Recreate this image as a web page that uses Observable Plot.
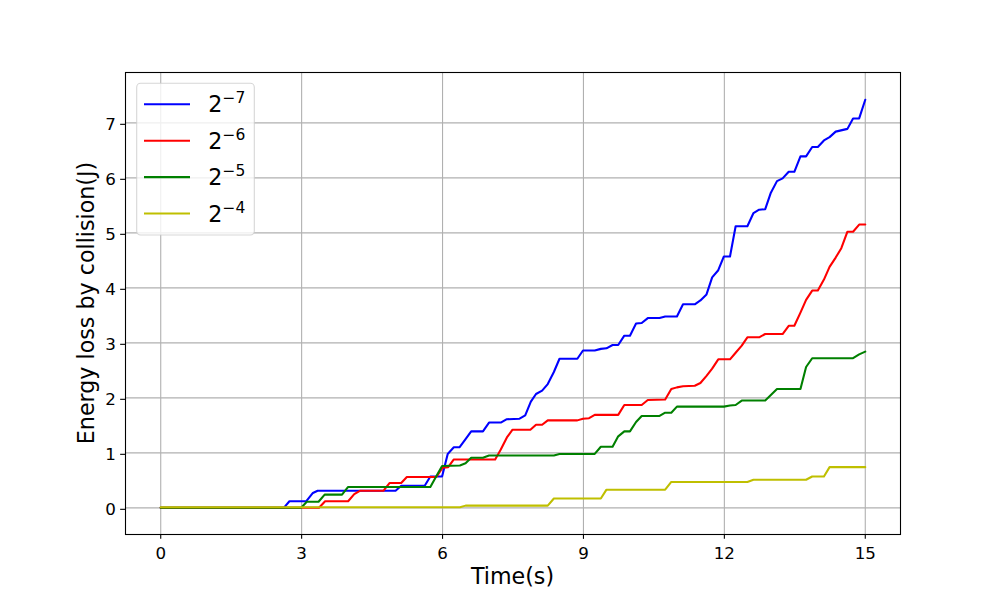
<!DOCTYPE html>
<html>
<head>
<meta charset="utf-8">
<script src="https://cdn.jsdelivr.net/npm/d3@7"></script>
<script src="https://cdn.jsdelivr.net/npm/@observablehq/plot@0.6"></script>
<style>
  html, body { margin: 0; padding: 0; background: #ffffff; }
</style>
</head>
<body>
<div id="chart"></div>
<script>
// ---- data ----
const xTicks = [0, 3, 6, 9, 12, 15];
const yTicks = [0, 1, 2, 3, 4, 5, 6, 7];
const xLabel = "Time(s)";
const yLabel = "Energy loss by collision(J)";

const seriesBase = ["2", "2", "2", "2"];
const seriesExponents = ["−7", "−6", "−5", "−4"];
const seriesColors = ["#0000ff", "#ff0000", "#008000", "#bfbf00"];

const tBlue = [0,2.62,2.74,3.1,3.24,3.34,5.0,5.12,5.62,5.74,5.99,6.11,6.24,6.36,6.49,6.61,6.86,6.99,7.24,7.36,7.64,7.76,7.88,7.99,8.12,8.24,8.37,8.49,8.87,8.99,9.24,9.37,9.49,9.62,9.74,9.87,9.99,10.12,10.24,10.37,10.62,10.74,10.99,11.12,11.37,11.49,11.62,11.74,11.87,11.99,12.12,12.24,12.49,12.62,12.74,12.87,12.99,13.12,13.24,13.37,13.49,13.62,13.74,13.87,13.99,14.12,14.24,14.37,14.62,14.74,14.87,15.0];
const vBlue = [0,0,0.12,0.12,0.27,0.31,0.31,0.40,0.40,0.57,0.57,0.98,1.10,1.10,1.25,1.39,1.39,1.55,1.55,1.61,1.62,1.68,1.93,2.07,2.13,2.25,2.47,2.71,2.71,2.86,2.86,2.89,2.90,2.96,2.96,3.13,3.13,3.35,3.36,3.45,3.45,3.48,3.48,3.70,3.70,3.77,3.88,4.19,4.32,4.57,4.57,5.12,5.12,5.36,5.42,5.43,5.73,5.94,5.99,6.11,6.11,6.39,6.39,6.56,6.56,6.68,6.74,6.84,6.89,7.08,7.08,7.42];

const tRed = [0,3.37,3.5,3.99,4.12,4.24,4.74,4.87,5.12,5.24,5.87,6.0,6.12,6.24,7.12,7.24,7.37,7.49,7.87,7.99,8.12,8.24,8.87,8.99,9.12,9.24,9.74,9.87,10.24,10.37,10.74,10.87,10.99,11.12,11.37,11.49,11.62,11.74,11.87,12.12,12.24,12.37,12.49,12.74,12.87,13.24,13.37,13.49,13.62,13.74,13.87,13.99,14.12,14.24,14.37,14.49,14.62,14.74,14.87,15.0];
const vRed = [0,0,0.12,0.12,0.25,0.31,0.31,0.45,0.45,0.56,0.56,0.73,0.74,0.88,0.88,1.06,1.28,1.42,1.42,1.51,1.51,1.59,1.59,1.62,1.63,1.69,1.69,1.87,1.87,1.96,1.97,2.16,2.19,2.21,2.22,2.27,2.40,2.53,2.70,2.70,2.82,2.95,3.10,3.10,3.16,3.16,3.31,3.31,3.55,3.78,3.95,3.95,4.15,4.38,4.55,4.72,5.02,5.02,5.15,5.15];

const tGreen = [0,2.99,3.11,3.36,3.49,3.86,3.99,5.74,5.87,5.99,6.37,6.49,6.61,6.86,6.99,8.37,8.49,9.24,9.37,9.62,9.74,9.87,9.99,10.12,10.24,10.62,10.74,10.87,10.99,11.99,12.12,12.24,12.37,12.87,12.99,13.12,13.62,13.74,13.87,14.74,14.87,15.0];
const vGreen = [0,0,0.11,0.11,0.24,0.24,0.38,0.38,0.58,0.76,0.77,0.81,0.91,0.91,0.95,0.95,0.98,0.98,1.11,1.11,1.30,1.39,1.39,1.56,1.67,1.67,1.73,1.73,1.84,1.84,1.86,1.87,1.95,1.95,2.05,2.16,2.16,2.56,2.72,2.72,2.79,2.84];

const tYellow = [0,6.37,6.49,8.24,8.37,9.37,9.49,10.74,10.87,12.49,12.62,13.74,13.87,14.12,14.24,15.0];
const vYellow = [0.01,0.01,0.04,0.04,0.17,0.17,0.33,0.33,0.47,0.47,0.51,0.51,0.57,0.57,0.74,0.74];

// ---- build tables ----
const seriesT = [tBlue, tRed, tGreen, tYellow];
const seriesV = [vBlue, vRed, vGreen, vYellow];
const series = seriesT.map((ts, i) => ({
  color: seriesColors[i],
  base: seriesBase[i],
  exp: seriesExponents[i],
  rows: ts.map((t, j) => ({ t, v: seriesV[i][j] }))
}));

const FONT = "DejaVu Sans";
const plot = Plot.plot({
  width: 1000,
  height: 600,
  marginLeft: 125,
  marginRight: 100,
  marginTop: 72,
  marginBottom: 66,
  style: { fontFamily: FONT, fontSize: "16.7px", background: "#ffffff", color: "#000000" },
  x: { domain: [-0.75, 15.75] },
  y: { domain: [-0.485, 7.915] },
  marks: [
    Plot.gridX(xTicks, { stroke: "#b0b0b0", strokeOpacity: 1, strokeWidth: 1.1 }),
    Plot.gridY(yTicks, { stroke: "#b0b0b0", strokeOpacity: 1, strokeWidth: 1.1 }),
    ...series.map(s => Plot.line(s.rows, { x: "t", y: "v", stroke: s.color, strokeWidth: 2.08 })),
    Plot.axisX(xTicks, { tickSize: 4.86, tickPadding: 7.5, label: null, strokeWidth: 1.1, fontSize: 16.7, tickFormat: d3.format("d") }),
    Plot.axisY(yTicks, { tickSize: 4.86, tickPadding: 4.86, label: null, strokeWidth: 1.1, fontSize: 16.7, dy: 1.5, tickFormat: d3.format("d") }),
    Plot.frame({ stroke: "#000000", strokeWidth: 1.1 })
  ]
});

document.getElementById("chart").appendChild(plot);

// ---- axis titles and legend ----
const svg = d3.select(plot);
svg.append("text")
  .attr("x", 512.5).attr("y", 584)
  .attr("text-anchor", "middle")
  .attr("font-family", FONT).attr("font-size", 22.2).attr("fill", "#000")
  .text(xLabel);
svg.append("text")
  .attr("transform", "translate(93.5,303) rotate(-90)")
  .attr("text-anchor", "middle")
  .attr("font-family", FONT).attr("font-size", 22.2).attr("fill", "#000")
  .text(yLabel);

const lg = svg.append("g").attr("font-family", FONT).attr("text-anchor", "start");
lg.append("rect")
  .attr("x", 136.7).attr("y", 83.3).attr("width", 117.6).attr("height", 151.7)
  .attr("rx", 4).attr("ry", 4)
  .attr("fill", "#ffffff").attr("fill-opacity", 0.8)
  .attr("stroke", "#cccccc").attr("stroke-opacity", 0.8).attr("stroke-width", 1.1);
series.forEach((s, i) => {
  const y = 104.3 + i * 36.4;
  lg.append("line")
    .attr("x1", 144).attr("x2", 190).attr("y1", y).attr("y2", y)
    .attr("stroke", s.color).attr("stroke-width", 2.08);
  const tx = lg.append("text")
    .attr("x", 208.3).attr("y", y + 8)
    .attr("text-anchor", "start")
    .attr("font-size", 22.2).attr("fill", "#000");
  tx.append("tspan").text(s.base);
  tx.append("tspan").attr("font-size", 15.5).attr("dy", -9).text(s.exp);
});
</script>
</body>
</html>
